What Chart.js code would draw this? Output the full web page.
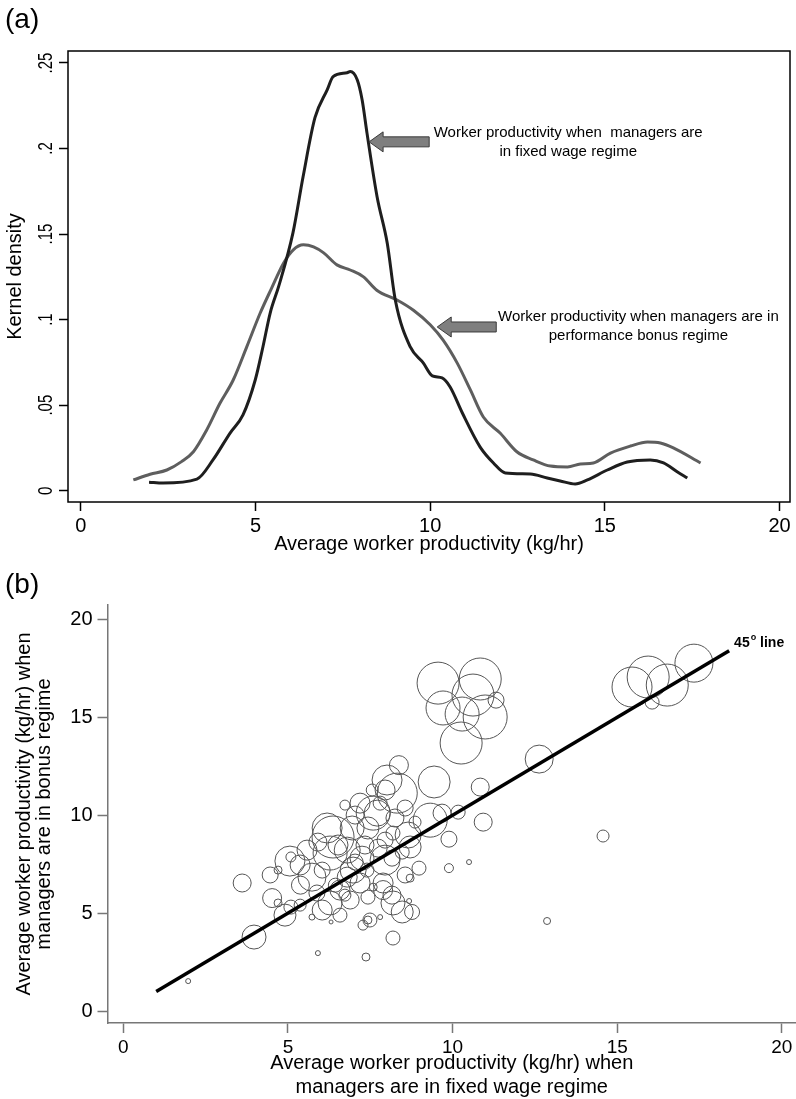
<!DOCTYPE html>
<html><head><meta charset="utf-8">
<script src="https://cdn.jsdelivr.net/npm/chart.js@4/dist/chart.umd.min.js"></script>
<style>
html,body{margin:0;padding:0;background:#fff;}
#wrap{position:relative;width:796px;height:1099px;overflow:hidden;font-family:"Liberation Sans",Arial,sans-serif;}
canvas{position:absolute;}
.lbl{position:absolute;font-size:28px;line-height:28px;color:#000;}
</style></head><body>
<div id="wrap">
<canvas id="ca" width="796" height="560" style="left:0;top:0;width:796px;height:560px"></canvas>
<canvas id="cb" width="796" height="539" style="left:0;top:560px;width:796px;height:539px"></canvas>
<div class="lbl" style="left:5px;top:5px">(a)</div>
<div class="lbl" style="left:5px;top:570px">(b)</div>
</div>
<script>
// ---------- Panel (a): kernel densities ----------
const fixedX = [1.95,2.35,3.32,3.78,4.27,4.64,4.99,5.21,5.42,5.67,6.07,6.36,6.70,7.05,7.22,7.62,7.71,7.91,8.05,8.19,8.48,8.77,9.00,9.43,9.80,10.06,10.34,10.57,10.92,11.43,11.81,12.15,12.87,13.35,13.72,14.15,14.50,15.07,15.64,16.30,16.68,17.08,17.36];
const fixedY = [0.005,0.0045,0.0068,0.018,0.0337,0.0443,0.0647,0.084,0.104,0.120,0.1507,0.1835,0.218,0.2343,0.242,0.2443,0.245,0.2402,0.2285,0.209,0.1717,0.1447,0.1115,0.084,0.0747,0.0671,0.0659,0.0606,0.0454,0.0255,0.0162,0.0104,0.0098,0.0074,0.0057,0.0039,0.0063,0.0121,0.0168,0.018,0.0162,0.0109,0.0074];
const bonusX = [1.50,1.98,2.46,2.88,3.22,3.60,3.98,4.36,4.75,5.13,5.45,5.80,6.08,6.37,6.66,6.95,7.33,7.71,8.09,8.47,9.05,9.52,10.0,10.37,10.77,11.15,11.52,12.0,12.49,12.95,13.44,13.93,14.30,14.67,15.16,15.73,16.22,16.59,16.96,17.74];
const bonusY = [0.0063,0.0096,0.0121,0.017,0.0228,0.0355,0.0511,0.0647,0.0842,0.1037,0.118,0.133,0.1408,0.1437,0.1425,0.139,0.132,0.129,0.125,0.1172,0.1115,0.1055,0.097,0.088,0.0747,0.0589,0.0431,0.0337,0.0226,0.018,0.0144,0.0139,0.0156,0.0162,0.022,0.0261,0.0285,0.0279,0.025,0.0162];
const xTicksA = [0,5,10,15,20];
const yTicksA = [0,0.05,0.1,0.15,0.2,0.25];
const yTickLabelsA = ['0','.05','.1','.15','.2','.25'];
const annotA = [
  {lines:['Worker productivity when  managers are','in fixed wage regime'], tx:13.95, ty:0.209, ax:8.25, ay:0.2039, tail:9.97},
  {lines:['Worker productivity when managers are in','performance bonus regime'], tx:15.96, ty:0.1016, ax:10.2, ay:0.0957, tail:11.89}
];

// ---------- Panel (b): bubble scatter ----------
const bubX = [9.56,10.84,10.62,9.71,10.29,10.99,11.32,10.26,15.45,15.94,16.52,17.33,16.06,12.63,10.84,9.44,8.37,10.93,10.17,9.68,9.32,9.89,14.57,10.50,9.89,8.98,8.56,8.71,12.87,8.19,8.47,8.77,8.68,8.16,7.89,3.61,3.97,1.97,5.91,7.37,6.31,4.52,4.91,5.09,4.70,4.70,5.09,5.06,5.73,6.04,5.73,7.28,7.43,7.80,8.19,6.28,5.88,6.28,6.58,6.80,6.98,7.19,6.80,5.58,7.95,7.40,7.59,7.49,7.43,7.89,8.65,8.19,8.71,7.71,8.01,8.32,7.95,7.80,6.73,7.19,6.19,6.37,7.59,
  5.38,6.44,6.89,7.04,7.34,6.95,7.95,8.25,8.86,8.47,7.56,6.04,6.58,5.37,
  7.25,6.52,7.74,8.16,7.04,7.43,5.91,5.37,4.46,6.73,8.56];
const bubY = [16.75,16.96,16.14,15.48,15.17,15.02,15.88,13.69,16.55,17.06,16.65,17.77,15.78,12.87,11.44,11.70,12.56,9.65,10.16,10.11,9.75,8.78,8.94,7.61,7.30,7.30,6.95,6.79,4.60,3.73,5.06,5.06,5.62,5.92,6.54,6.54,3.78,1.53,2.96,2.76,4.55,5.77,4.90,5.31,5.52,7.20,7.87,7.66,6.84,5.16,4.80,4.39,4.65,4.80,5.52,8.07,6.03,5.52,6.18,6.84,7.20,6.54,8.22,8.22,7.71,7.20,6.33,4.65,5.82,6.18,8.99,9.09,8.38,10.11,11.80,11.13,11.29,10.62,10.52,10.62,9.35,8.89,10.11,
  6.43,6.43,5.67,7.61,8.48,9.35,8.73,9.86,9.65,8.12,11.29,7.20,4.90,5.41,
  7.81,8.48,8.32,7.81,10.01,9.35,8.63,7.46,6.95,5.92,10.37];
const bubSize = [21,21,21,17,17,22,8,21,20,21,21,19,7,14,9,16,9.5,9,7,9,17,8,6,2.5,4.5,7,8,4,3.5,7,11,7.5,2.5,9,10,9,12,2.5,2.5,4,2,9.5,11,7,4,4,5,15,14,10,3,5,4,2.5,12,17,8,12,10,10,13,10,13,10,15,7,4,7,7,9.5,13,7,11,13,15,20,10,7,5,10,15,21,17,
  9,7,9,8,9,12,8,9,6,7,6,8,7,6,
  12,10,9,8,9,11,9,10,8,6,8];
const lineX = [1.0,18.4];
const lineY = [1.0,18.4];
const xTicksB = [0,5,10,15,20];
const yTicksB = [0,5,10,15,20];

const FONT = '"Liberation Sans", Arial, sans-serif';
Chart.defaults.font.family = FONT;
Chart.defaults.color = '#000';

// ----- chart (a) -----
const frameAndAnnot = {
  id:'frameAndAnnot',
  afterDraw(chart){
    const {ctx, chartArea:a, scales:{x,y}} = chart;
    ctx.save();
    ctx.strokeStyle = '#000'; ctx.lineWidth = 1.5;
    ctx.strokeRect(a.left, a.top, a.right-a.left, a.bottom-a.top);
    ctx.fillStyle = '#000';
    ctx.font = '20px ' + FONT;
    ctx.textAlign = 'center'; ctx.textBaseline = 'middle';
    yTicksA.forEach((v,i)=>{
      ctx.save();
      ctx.translate(46, y.getPixelForValue(v));
      ctx.rotate(-Math.PI/2);
      ctx.scale(0.75, 1);
      ctx.fillText(yTickLabelsA[i], 0, 0);
      ctx.restore();
    });
    annotA.forEach(an=>{
      const tipX = x.getPixelForValue(an.ax), tipY = y.getPixelForValue(an.ay);
      const tailX = x.getPixelForValue(an.tail);
      const hl = 14, hh = 10, sh = 5;
      ctx.beginPath();
      ctx.moveTo(tipX, tipY);
      ctx.lineTo(tipX+hl, tipY-hh);
      ctx.lineTo(tipX+hl, tipY-sh);
      ctx.lineTo(tailX, tipY-sh);
      ctx.lineTo(tailX, tipY+sh);
      ctx.lineTo(tipX+hl, tipY+sh);
      ctx.lineTo(tipX+hl, tipY+hh);
      ctx.closePath();
      ctx.fillStyle = '#7f7f7f'; ctx.fill();
      ctx.strokeStyle = '#3a3a3a'; ctx.lineWidth = 1; ctx.stroke();
      ctx.fillStyle = '#000';
      ctx.font = '15px ' + FONT;
      ctx.textAlign = 'center'; ctx.textBaseline = 'middle';
      const cx = x.getPixelForValue(an.tx), cy = y.getPixelForValue(an.ty);
      an.lines.forEach((t,i)=>ctx.fillText(t, cx, cy + i*19));
    });
    ctx.restore();
  }
};

new Chart(document.getElementById('ca'), {
  type:'line',
  data:{datasets:[
    {label:'Fixed wage', data: fixedX.map((v,i)=>({x:v,y:fixedY[i]})), borderColor:'#1e1e1e', borderWidth:3, pointRadius:0, cubicInterpolationMode:'monotone', fill:false},
    {label:'Performance bonus', data: bonusX.map((v,i)=>({x:v,y:bonusY[i]})), borderColor:'#5e5e5e', borderWidth:3, pointRadius:0, cubicInterpolationMode:'monotone', fill:false}
  ]},
  options:{
    responsive:false, animation:false,
    layout:{autoPadding:false, padding:{top:51, right:6, left:0, bottom:0}},
    plugins:{legend:{display:false}, tooltip:{enabled:false}},
    scales:{
      x:{type:'linear', min:-0.37, max:20.3,
         afterBuildTicks:s=>{s.ticks = xTicksA.map(v=>({value:v}));},
         afterFit:s=>{s.height = 58;},
         border:{display:false},
         grid:{drawOnChartArea:false, drawTicks:true, tickLength:9, tickColor:'#000', tickWidth:1.5},
         ticks:{font:{size:20}, color:'#000', padding:3, maxRotation:0, callback:v=>String(v)},
         title:{display:true, text:'Average worker productivity (kg/hr)', font:{size:20}, color:'#000', padding:{top:0,bottom:4}}
      },
      y:{type:'linear', min:-0.0066, max:0.257,
         afterBuildTicks:s=>{s.ticks = yTicksA.map(v=>({value:v}));},
         afterFit:s=>{s.width = 68;},
         border:{display:false},
         grid:{drawOnChartArea:false, drawTicks:true, tickLength:9, tickColor:'#000', tickWidth:1.5},
         ticks:{display:false},
         title:{display:true, text:'Kernel density', font:{size:20}, color:'#000', padding:{top:3,bottom:0}}
      }
    }
  },
  plugins:[frameAndAnnot]
});

// ----- chart (b) -----
const lineLabel = {
  id:'lineLabel',
  afterDraw(chart){
    const {ctx, scales:{x,y}} = chart;
    ctx.save();
    ctx.fillStyle = '#000';
    ctx.textBaseline = 'alphabetic'; ctx.textAlign = 'left';
    const px = x.getPixelForValue(18.55), py = y.getPixelForValue(18.6);
    ctx.font = 'bold 14px ' + FONT;
    ctx.fillText('45', px, py);
    const w1 = ctx.measureText('45').width;
    ctx.font = 'bold 9px ' + FONT;
    ctx.fillText('o', px + w1 + 1, py - 7);
    const w2 = ctx.measureText('o').width;
    ctx.font = 'bold 14px ' + FONT;
    ctx.fillText(' line', px + w1 + 1 + w2, py);
    ctx.restore();
  }
};

new Chart(document.getElementById('cb'), {
  type:'bubble',
  data:{datasets:[
    {type:'line', label:'45 degree line', data: lineX.map((v,i)=>({x:v,y:lineY[i]})), borderColor:'#000', borderWidth:3.5, pointRadius:0, fill:false, order:0},
    {type:'bubble', label:'Managers', data: bubX.map((v,i)=>({x:v,y:bubY[i],r:bubSize[i]})), borderColor:'#555', borderWidth:1, backgroundColor:'rgba(0,0,0,0)', order:1, clip:false}
  ]},
  options:{
    responsive:false, animation:false,
    layout:{autoPadding:false, padding:{top:45, right:0, left:0, bottom:0}},
    plugins:{legend:{display:false}, tooltip:{enabled:false}},
    scales:{
      x:{type:'linear', min:-0.48, max:20.43,
         afterBuildTicks:s=>{s.ticks = xTicksB.map(v=>({value:v}));},
         afterFit:s=>{s.height = 76;},
         border:{display:true, color:'#777', width:1.5},
         grid:{drawOnChartArea:false, drawTicks:true, tickLength:10, tickColor:'#777', tickWidth:1.5},
         ticks:{font:{size:19}, color:'#000', padding:3, maxRotation:0, callback:v=>String(v)},
         title:{display:true, text:['Average worker productivity (kg/hr) when','managers are in fixed wage regime'], font:{size:20, lineHeight:1.2}, color:'#000', padding:{top:0,bottom:0}}
      },
      y:{type:'linear', min:-0.61, max:20.74,
         afterBuildTicks:s=>{s.ticks = yTicksB.map(v=>({value:v}));},
         afterFit:s=>{s.width = 107.5;},
         border:{display:true, color:'#777', width:1.5},
         grid:{drawOnChartArea:false, drawTicks:true, tickLength:10, tickColor:'#777', tickWidth:1.5},
         ticks:{font:{size:20}, color:'#000', padding:5, callback:v=>String(v)},
         title:{display:true, text:['Average worker productivity (kg/hr) when','managers are in bonus regime'], font:{size:20, lineHeight:1.0}, color:'#000', padding:{top:14,bottom:0}}
      }
    }
  },
  plugins:[lineLabel]
});
</script>
</body></html>
